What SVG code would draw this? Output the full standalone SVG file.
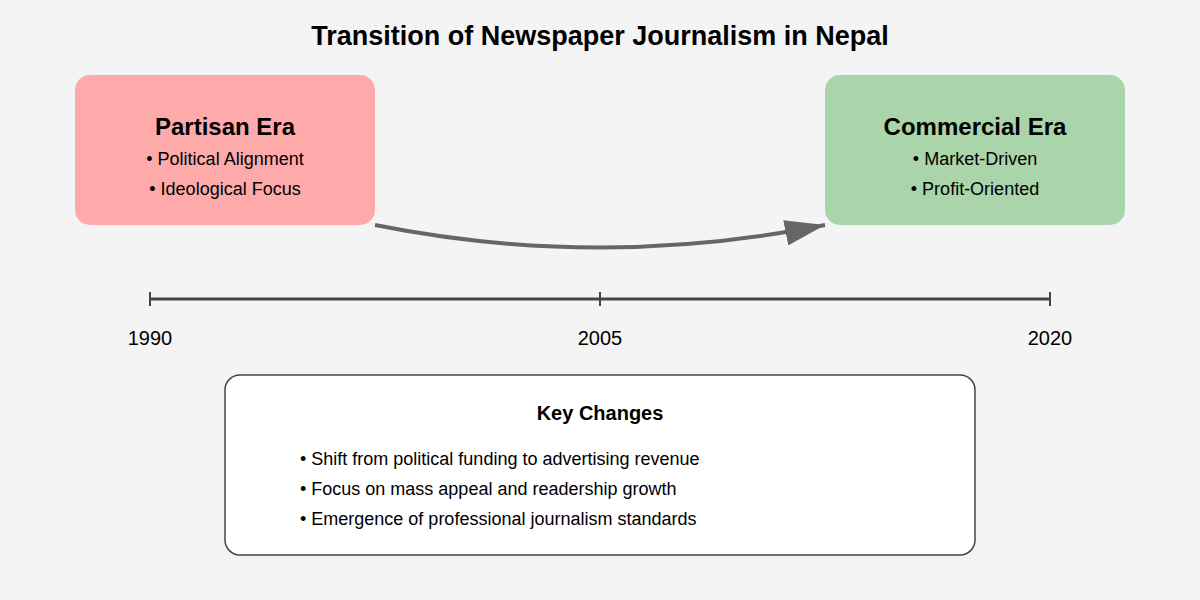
<svg xmlns="http://www.w3.org/2000/svg" width="1200" height="600" viewBox="0 0 1200 600">
<style>
text{font-family:"Liberation Sans",Arial,sans-serif;fill:#000}
.title{font-size:27px;font-weight:bold;text-anchor:middle}
.h{font-size:24px;font-weight:bold;text-anchor:middle}
.b{font-size:18px;text-anchor:middle}
.yr{font-size:20px;text-anchor:middle}
.kb{font-size:18px}
.kh{font-size:20px;font-weight:bold;text-anchor:middle}
</style>
<defs>
<marker id="ah" markerWidth="10" markerHeight="6.4" refX="10" refY="3.2" orient="auto" markerUnits="strokeWidth">
<polygon points="0 0,10 3.2,0 6.4" fill="#666"/>
</marker>
</defs>
<rect width="1200" height="600" fill="#f4f4f4"/>
<text class="title" x="600" y="45">Transition of Newspaper Journalism in Nepal</text>
<g id="partisan">
<rect x="75" y="75" width="300" height="150" rx="15" fill="#ffaaaa"/>
<text class="h" x="225" y="135">Partisan Era</text>
<text class="b" x="225" y="165">• Political Alignment</text>
<text class="b" x="225" y="195">• Ideological Focus</text>
</g>
<g id="commercial">
<rect x="825" y="75" width="300" height="150" rx="15" fill="#aad4aa"/>
<text class="h" x="975" y="135">Commercial Era</text>
<text class="b" x="975" y="165">• Market-Driven</text>
<text class="b" x="975" y="195">• Profit-Oriented</text>
</g>
<g id="connectors">
<path d="M375 225 Q600 270 825 225" fill="none" stroke="#666" stroke-width="4" marker-end="url(#ah)"/>
</g>
<g id="timeline" stroke="#444" stroke-width="3">
<line x1="150" y1="299" x2="1050" y2="299"/>
<line x1="150" y1="292" x2="150" y2="306" stroke-width="2"/>
<line x1="600" y1="292" x2="600" y2="306" stroke-width="2"/>
<line x1="1050" y1="292" x2="1050" y2="306" stroke-width="2"/>
</g>
<text class="yr" x="150" y="345">1990</text>
<text class="yr" x="600" y="345">2005</text>
<text class="yr" x="1050" y="345">2020</text>
<g id="keychanges">
<rect x="225" y="375" width="750" height="180" rx="15" fill="#fff" stroke="#444" stroke-width="1.5"/>
<text class="kh" x="600" y="420">Key Changes</text>
<text class="kb" x="300" y="465">• Shift from political funding to advertising revenue</text>
<text class="kb" x="300" y="495">• Focus on mass appeal and readership growth</text>
<text class="kb" x="300" y="525">• Emergence of professional journalism standards</text>
</g>
</svg>
